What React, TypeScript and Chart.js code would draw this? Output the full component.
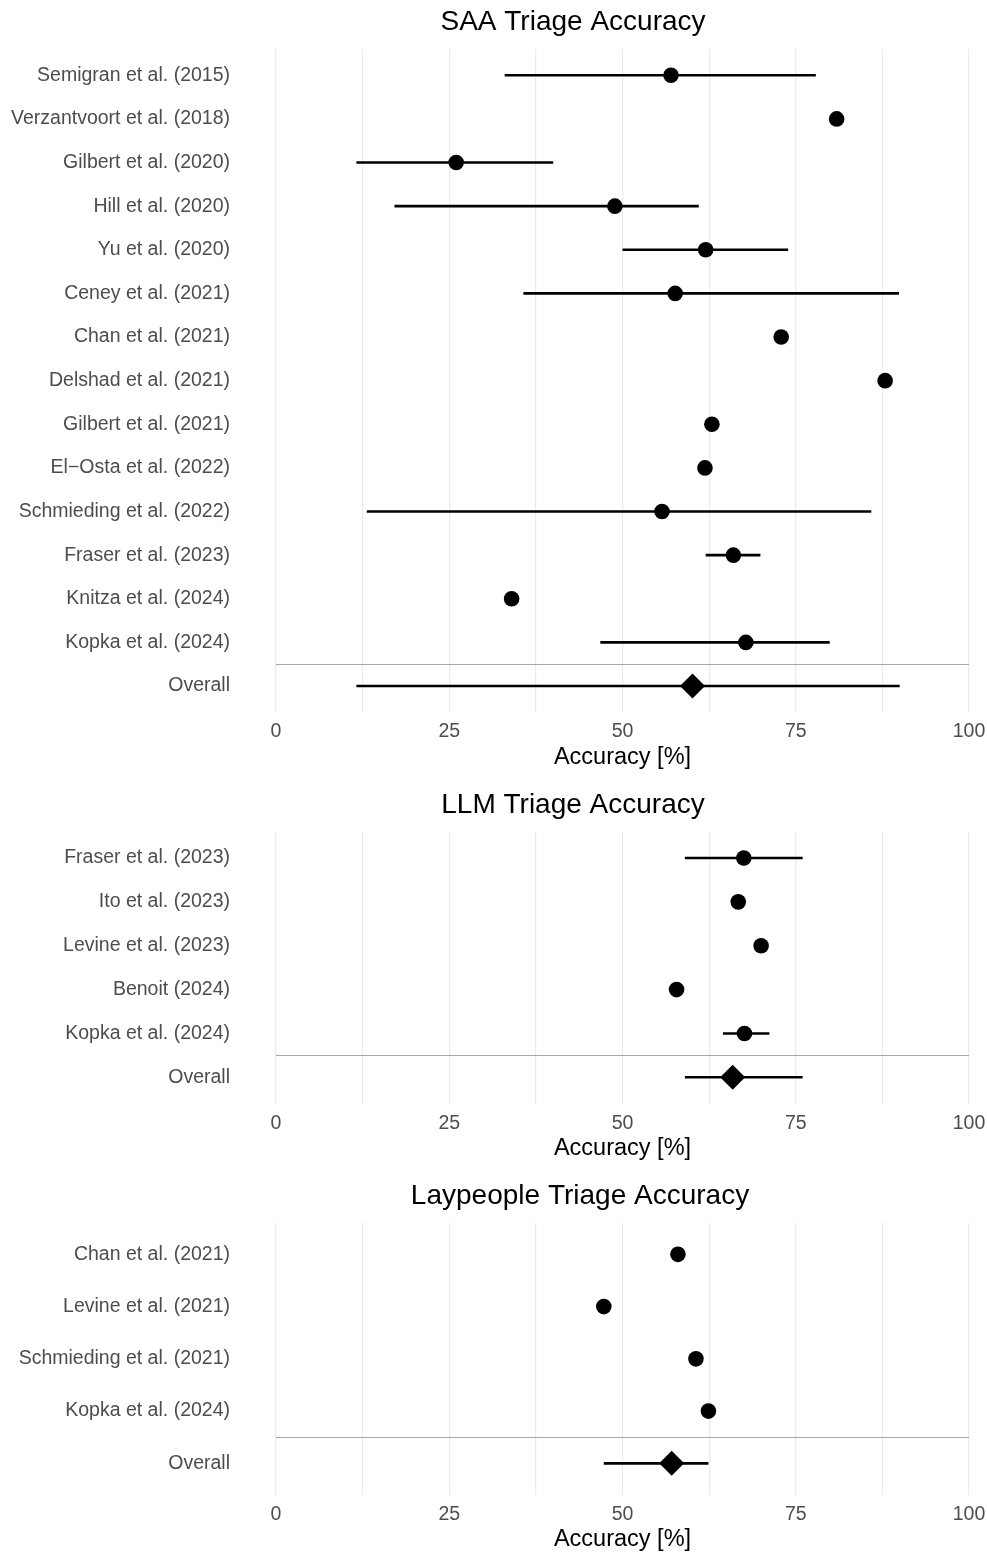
import React, { useEffect, useRef } from 'react';
import { Chart, registerables } from 'chart.js';

Chart.register(...registerables);

// ---------- data ----------
const saaStudies = [
  'Semigran et al. (2015)',
  'Verzantvoort et al. (2018)',
  'Gilbert et al. (2020)',
  'Hill et al. (2020)',
  'Yu et al. (2020)',
  'Ceney et al. (2021)',
  'Chan et al. (2021)',
  'Delshad et al. (2021)',
  'Gilbert et al. (2021)',
  'El\u2212Osta et al. (2022)',
  'Schmieding et al. (2022)',
  'Fraser et al. (2023)',
  'Knitza et al. (2024)',
  'Kopka et al. (2024)',
];
const saaEstimate = [57.0, 80.9, 26.0, 48.9, 62.0, 57.6, 72.9, 87.9, 62.9, 61.9, 55.7, 66.0, 34.0, 67.8];
const saaLower = [33.0, null, 11.6, 17.1, 50.0, 35.7, null, null, null, null, 13.1, 62.0, null, 46.8];
const saaUpper = [77.9, null, 40.0, 61.0, 73.9, 89.9, null, null, null, null, 85.9, 69.9, null, 79.9];
const saaOverall = [11.6, 60.1, 90.0]; // lower, estimate, upper

const llmStudies = [
  'Fraser et al. (2023)',
  'Ito et al. (2023)',
  'Levine et al. (2023)',
  'Benoit (2024)',
  'Kopka et al. (2024)',
];
const llmEstimate = [67.5, 66.7, 70.0, 57.8, 67.6];
const llmLower = [59.0, null, null, null, 64.5];
const llmUpper = [76.0, null, null, null, 71.2];
const llmOverall = [59.0, 65.9, 76.0];

const layStudies = [
  'Chan et al. (2021)',
  'Levine et al. (2021)',
  'Schmieding et al. (2021)',
  'Kopka et al. (2024)',
];
const layEstimate = [58.0, 47.3, 60.6, 62.4];
const layLower = [null, null, null, null];
const layUpper = [null, null, null, null];
const layOverall = [47.3, 57.1, 62.4];

const overallLabel = 'Overall';
const xAxisTitle = 'Accuracy [%]';
const xMin = 0;
const xMax = 100;
const xGridStep = 12.5;
const xLabelStep = 25;

// ---------- styling ----------
const FONT = "'Liberation Sans', Arial, Helvetica, sans-serif";
const W = 987;
const X_AXIS_H = 60;

type PanelProps = {
  title: string;
  studies: string[];
  estimate: number[];
  lower: (number | null)[];
  upper: (number | null)[];
  overall: number[];
  top: number;
  height: number;
  areaTop: number;
  areaBottom: number;
  titleX: number;
};

function Panel(p: PanelProps) {
  const ref = useRef<HTMLCanvasElement | null>(null);

  useEffect(() => {
    if (!ref.current) return;
    const labels = [...p.studies, overallLabel];
    const n = labels.length;

    const forestPlugin = {
      id: 'forest',
      beforeDatasetsDraw(chart: any) {
        const { ctx, chartArea } = chart;
        const x = chart.scales.x;
        const y = chart.scales.y;
        ctx.save();
        // separator between studies and overall
        const sy = Math.round(y.getPixelForValue(n - 1.5)) + 0.5;
        ctx.strokeStyle = '#a8a8a8';
        ctx.lineWidth = 1.2;
        ctx.beginPath();
        ctx.moveTo(chartArea.left, sy);
        ctx.lineTo(chartArea.right, sy);
        ctx.stroke();
        // error bars
        ctx.strokeStyle = '#000';
        ctx.lineWidth = 2.6;
        ctx.lineCap = 'butt';
        ctx.beginPath();
        p.lower.forEach((lo, i) => {
          const hi = p.upper[i];
          if (lo == null || hi == null) return;
          const py = y.getPixelForValue(i);
          ctx.moveTo(x.getPixelForValue(lo), py);
          ctx.lineTo(x.getPixelForValue(hi), py);
        });
        const oy = y.getPixelForValue(n - 1);
        ctx.moveTo(x.getPixelForValue(p.overall[0]), oy);
        ctx.lineTo(x.getPixelForValue(p.overall[2]), oy);
        ctx.stroke();
        ctx.restore();
      },
      afterDraw(chart: any) {
        const { ctx } = chart;
        ctx.save();
        ctx.fillStyle = '#000';
        ctx.font = `28px ${FONT}`;
        ctx.textAlign = 'center';
        ctx.textBaseline = 'middle';
        ctx.fillText(p.title, p.titleX, 22);
        ctx.restore();
      },
    };

    const chart = new Chart(ref.current, {
      type: 'scatter',
      data: {
        datasets: [
          {
            data: p.studies.map((_, i) => ({ x: p.estimate[i], y: i })),
            pointStyle: 'circle',
            pointRadius: 7.8,
            pointHoverRadius: 7.8,
            backgroundColor: '#000',
            borderColor: '#000',
            borderWidth: 0,
          },
          {
            data: [{ x: p.overall[1], y: n - 1 }],
            pointStyle: 'rectRot',
            pointRadius: 12.5,
            pointHoverRadius: 12.5,
            backgroundColor: '#000',
            borderColor: '#000',
            borderWidth: 0,
          },
        ],
      },
      options: {
        responsive: false,
        animation: false,
        events: [],
        layout: {
          padding: {
            top: p.areaTop,
            bottom: p.height - p.areaBottom - X_AXIS_H,
            left: 0,
            right: 18,
          },
        },
        plugins: {
          legend: { display: false },
          tooltip: { enabled: false },
          title: { display: false },
        },
        scales: {
          x: {
            type: 'linear',
            position: 'bottom',
            min: xMin,
            max: xMax,
            afterFit: (s: any) => {
              s.height = X_AXIS_H;
              s.paddingLeft = 0;
              s.paddingRight = 0;
            },
            ticks: {
              stepSize: xGridStep,
              autoSkip: false,
              maxRotation: 0,
              padding: 8,
              color: '#4d4d4d',
              font: { family: FONT, size: 19.5 },
              callback: (v: any) => (Math.abs(v % xLabelStep) < 1e-6 ? String(v) : ''),
            },
            grid: { color: '#ebebeb', lineWidth: 1.2, drawTicks: false },
            border: { display: false },
            title: {
              display: true,
              text: xAxisTitle,
              color: '#000',
              font: { family: FONT, size: 23.5 },
              padding: { top: 0, bottom: 1 },
            },
          },
          y: {
            type: 'linear',
            reverse: true,
            min: -0.6,
            max: n - 0.4,
            afterFit: (s: any) => {
              s.width = 276;
              s.paddingTop = 0;
              s.paddingBottom = 0;
            },
            afterBuildTicks: (s: any) => {
              s.ticks = labels.map((_, i) => ({ value: i }));
            },
            ticks: {
              autoSkip: false,
              padding: 46,
              color: '#4d4d4d',
              font: { family: FONT, size: 19.5 },
              callback: (v: any) => labels[Math.round(v)] ?? '',
            },
            grid: { display: false, drawTicks: false },
            border: { display: false },
          },
        },
      } as any,
      plugins: [forestPlugin],
    });
    return () => chart.destroy();
  }, []);

  return (
    <canvas
      ref={ref}
      width={W}
      height={p.height}
      style={{ position: 'absolute', left: 0, top: p.top, display: 'block' }}
    />
  );
}

export default function App() {
  return (
    <div
      style={{
        position: 'absolute',
        left: 0,
        top: 0,
        width: W,
        height: 1556,
        background: '#fff',
        overflow: 'hidden',
      }}
    >
      <Panel
        title="SAA Triage Accuracy"
        studies={saaStudies}
        estimate={saaEstimate}
        lower={saaLower}
        upper={saaUpper}
        overall={saaOverall}
        top={0}
        height={775}
        areaTop={49.1}
        areaBottom={712.2}
        titleX={573}
      />
      <Panel
        title="LLM Triage Accuracy"
        studies={llmStudies}
        estimate={llmEstimate}
        lower={llmLower}
        upper={llmUpper}
        overall={llmOverall}
        top={783}
        height={384}
        areaTop={48.7}
        areaBottom={320.6}
        titleX={573}
      />
      <Panel
        title="Laypeople Triage Accuracy"
        studies={layStudies}
        estimate={layEstimate}
        lower={layLower}
        upper={layUpper}
        overall={layOverall}
        top={1174}
        height={382}
        areaTop={49}
        areaBottom={320.7}
        titleX={580}
      />
    </div>
  );
}
